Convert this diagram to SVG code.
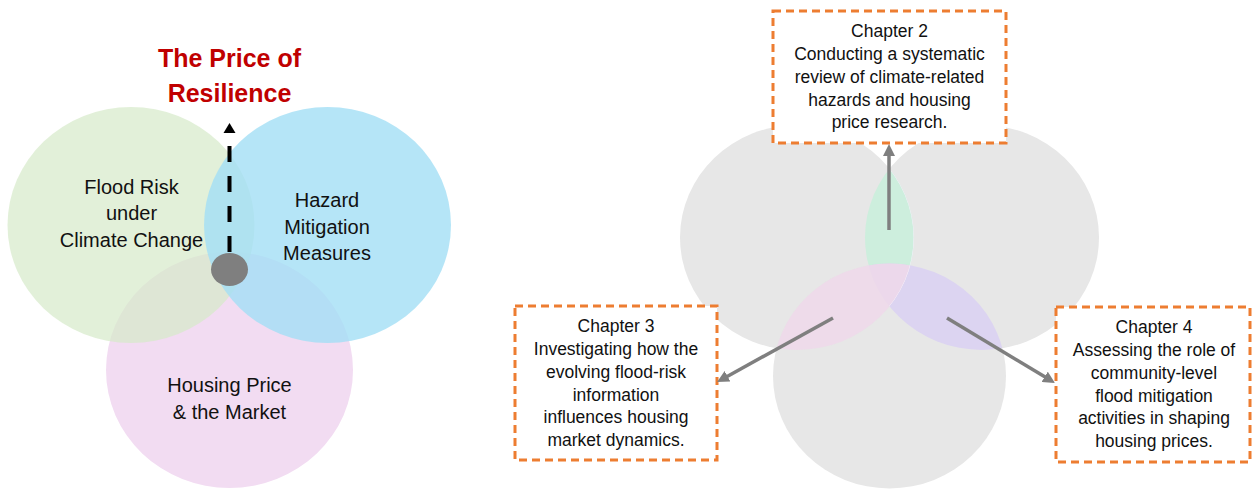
<svg xmlns="http://www.w3.org/2000/svg" width="1252" height="489" viewBox="0 0 1252 489">
  <style>
    .lbl { font-family: "Liberation Sans", Arial, sans-serif; font-size: 20px; fill: #111; text-anchor: middle; }
    .title { font-family: "Liberation Sans", Arial, sans-serif; font-size: 25px; font-weight: bold; fill: #C00000; text-anchor: middle; }
    .ch { font-family: "Liberation Sans", Arial, sans-serif; font-size: 17.5px; fill: #111; text-anchor: middle; }
    .box { fill: #FFFFFF; stroke: #ED7D31; stroke-width: 3; stroke-dasharray: 8 5; }
    .gray { fill: #E7E7E7; }
    .conn { stroke: #7F7F7F; stroke-width: 3.5; fill: none; marker-end: url(#head); }
  </style>
  <defs>
    <marker id="head" viewBox="0 0 12 12" refX="2" refY="6" markerWidth="12" markerHeight="12" markerUnits="userSpaceOnUse" orient="auto">
      <path d="M0,0 L12,6 L0,12 z" fill="#7F7F7F"/>
    </marker>
    <clipPath id="clipLeft"><ellipse cx="797" cy="237.5" rx="117" ry="112.5"/></clipPath>
    <clipPath id="clipRight"><ellipse cx="982" cy="237.5" rx="117" ry="112.5"/></clipPath>
  </defs>

  <rect width="1252" height="489" fill="#FFFFFF"/>

  <!-- Left Venn: three themes -->
  <g id="housing">
    <ellipse cx="229.5" cy="370" rx="123.5" ry="118" fill="#F2DCF2"/>
    <text class="lbl" x="229.5" y="392">Housing Price</text>
    <text class="lbl" x="229.5" y="418.5">&amp; the Market</text>
  </g>
  <g id="flood-risk">
    <ellipse cx="131" cy="225" rx="123.5" ry="118" fill="#D6EAC9" fill-opacity="0.7"/>
  </g>
  <g id="mitigation">
    <ellipse cx="327.5" cy="225" rx="123.5" ry="118" fill="#A2DEF5" fill-opacity="0.8"/>
  </g>
  <g id="flood-risk-label">
    <text class="lbl" x="131.5" y="193.5">Flood Risk</text>
    <text class="lbl" x="131.5" y="220">under</text>
    <text class="lbl" x="131.5" y="247">Climate Change</text>
  </g>
  <g id="mitigation-label">
    <text class="lbl" x="327" y="207">Hazard</text>
    <text class="lbl" x="327" y="233.5">Mitigation</text>
    <text class="lbl" x="327" y="260">Measures</text>
  </g>

  <g id="resilience">
    <text class="title" x="229.5" y="67">The Price of</text>
    <text class="title" x="229.5" y="102">Resilience</text>
  </g>

  <g id="core">
    <line x1="229.5" y1="252" x2="229.5" y2="146" stroke="#000" stroke-width="4" stroke-dasharray="16 14"/>
    <path d="M229.5,123 L235.5,133 L223.5,133 z" fill="#000"/>
    <ellipse cx="229.5" cy="269.5" rx="18.5" ry="16.5" fill="#7F7F7F"/>
  </g>

  <!-- Right Venn: chapter overlaps -->
  <g id="venn-right">
    <ellipse class="gray" cx="797" cy="237.5" rx="117" ry="112.5"/>
    <ellipse class="gray" cx="982" cy="237.5" rx="117" ry="112.5"/>
    <ellipse class="gray" cx="889.5" cy="376" rx="116.5" ry="112.5"/>
    <ellipse cx="982" cy="237.5" rx="117" ry="112.5" fill="#CDEEDD" clip-path="url(#clipLeft)"/>
    <ellipse cx="889.5" cy="376" rx="116.5" ry="112.5" fill="#DCD4F1" clip-path="url(#clipRight)"/>
    <ellipse cx="889.5" cy="376" rx="116.5" ry="112.5" fill="#EFD8EA" fill-opacity="0.85" clip-path="url(#clipLeft)"/>
    <g clip-path="url(#clipRight)">
      <ellipse cx="797" cy="237.5" rx="117" ry="112.5" fill="none" stroke="#F4F0FA" stroke-width="1" clip-path="url(#clipLeft)"/>
    </g>
  </g>

  <g id="chapter2">
    <rect class="box" x="773" y="11" width="233" height="132"/>
    <text class="ch" x="889.5" y="37">Chapter 2</text>
    <text class="ch" x="889.5" y="60">Conducting a systematic</text>
    <text class="ch" x="889.5" y="83">review of climate-related</text>
    <text class="ch" x="889.5" y="105.5">hazards and housing</text>
    <text class="ch" x="889.5" y="128">price research.</text>
  </g>

  <g id="chapter3">
    <rect class="box" x="515" y="306" width="202" height="154"/>
    <text class="ch" x="616" y="332">Chapter 3</text>
    <text class="ch" x="616" y="354.5">Investigating how the</text>
    <text class="ch" x="616" y="377.5">evolving flood-risk</text>
    <text class="ch" x="616" y="400.5">information</text>
    <text class="ch" x="616" y="423">influences housing</text>
    <text class="ch" x="616" y="446">market dynamics.</text>
  </g>

  <g id="chapter4">
    <rect class="box" x="1056" y="307" width="194" height="155"/>
    <text class="ch" x="1154" y="333">Chapter 4</text>
    <text class="ch" x="1154" y="355.5">Assessing the role of</text>
    <text class="ch" x="1154" y="378.5">community-level</text>
    <text class="ch" x="1154" y="401.5">flood mitigation</text>
    <text class="ch" x="1154" y="424">activities in shaping</text>
    <text class="ch" x="1154" y="447">housing prices.</text>
  </g>

  <g id="connectors">
    <line class="conn" x1="889" y1="230" x2="889" y2="154"/>
    <line class="conn" x1="833" y1="318" x2="725.8" y2="377.2"/>
    <line class="conn" x1="947" y1="318" x2="1046.4" y2="377.8"/>
  </g>
</svg>
